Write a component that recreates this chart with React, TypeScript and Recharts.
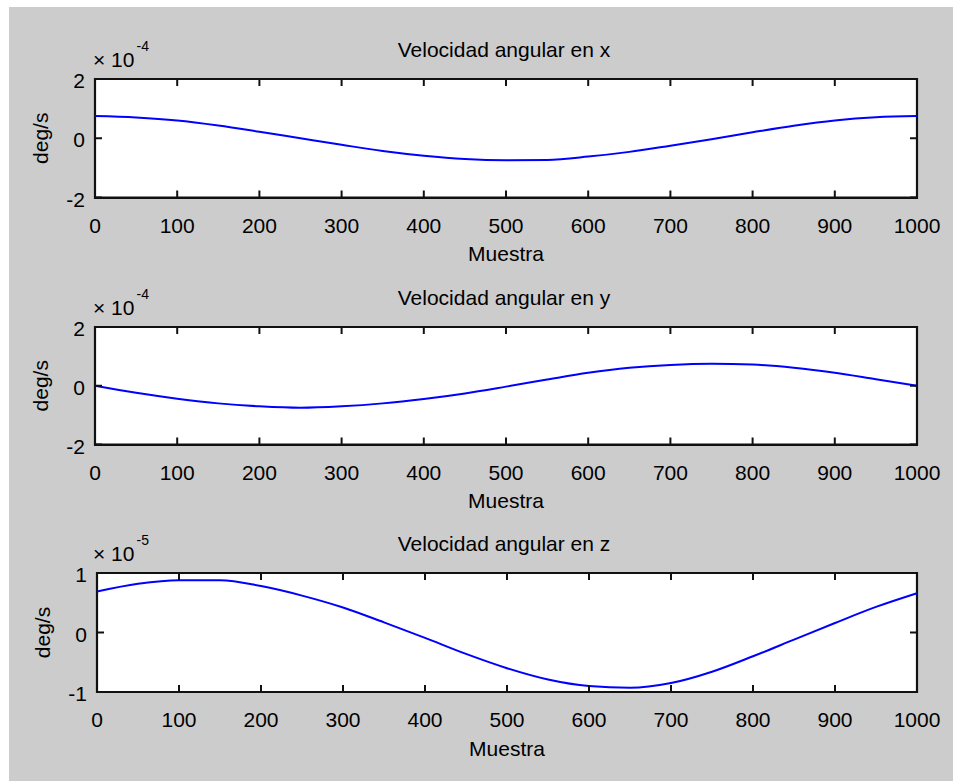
import React from "react";
import { LineChart, Line, XAxis, YAxis, ReferenceArea } from "recharts";

// muestra (sample index) every 50 samples
const muestra = [
  0, 50, 100, 150, 200, 250, 300, 350, 400, 450, 500, 550, 600, 650, 700, 750,
  800, 850, 900, 950, 1000,
];

// angular velocity in x, units of 1e-4 deg/s
const velocidadX = [
  0.75, 0.7, 0.6, 0.43, 0.22, 0, -0.22, -0.43, -0.59, -0.7, -0.74, -0.73,
  -0.62, -0.46, -0.25, -0.03, 0.2, 0.42, 0.6, 0.71, 0.75,
];

// angular velocity in y, units of 1e-4 deg/s
const velocidadY = [
  0, -0.24, -0.44, -0.6, -0.7, -0.75, -0.7, -0.6, -0.45, -0.26, -0.03, 0.21,
  0.44, 0.61, 0.71, 0.75, 0.72, 0.61, 0.44, 0.22, 0,
];

// angular velocity in z, units of 1e-5 deg/s
const velocidadZ = [
  0.69, 0.82, 0.88, 0.88, 0.78, 0.62, 0.42, 0.17, -0.09, -0.36, -0.6, -0.79,
  -0.9, -0.93, -0.85, -0.66, -0.4, -0.12, 0.16, 0.43, 0.66,
];

const muestraTicks = [0, 100, 200, 300, 400, 500, 600, 700, 800, 900, 1000];
const ticksXY = [-2, 0, 2];
const ticksZ = [-1, 0, 1];

const FONT = "'Liberation Sans', Arial, Helvetica, sans-serif";
const FS = 21;
const W = 957;
const PLOT_RIGHT = 917;
const Y_AXIS_W = 60;
const X_AXIS_H = 45;
const ABOVE = 75;
const BELOW = 90;
const TICK_LEN = 7;
const BOX = "#111";
const BOX_W = 2.2;

// MATLAB style ticks: short marks pointing into the axes box, on both sides
const BottomTick = (props: any) => {
  const { x, y, payload, plotH } = props;
  return (
    <g>
      <line x1={x} x2={x} y1={y} y2={y - TICK_LEN} stroke={BOX} strokeWidth={2} />
      <line x1={x} x2={x} y1={y - plotH} y2={y - plotH + TICK_LEN} stroke={BOX} strokeWidth={2} />
      <text x={x} y={y + 35} textAnchor="middle" fill="#000" fontSize={FS} fontFamily={FONT}>
        {payload.value}
      </text>
    </g>
  );
};

const LeftTick = (props: any) => {
  const { x, y, payload, plotW } = props;
  return (
    <g>
      <line x1={x} x2={x + TICK_LEN} y1={y} y2={y} stroke={BOX} strokeWidth={2} />
      <line x1={x + plotW} x2={x + plotW - TICK_LEN} y1={y} y2={y} stroke={BOX} strokeWidth={2} />
      <text x={x - 10} y={y + 9} textAnchor="end" fill="#000" fontSize={FS} fontFamily={FONT}>
        {payload.value}
      </text>
    </g>
  );
};

type PanelProps = {
  values: number[];
  yTicks: number[];
  top: number;
  bottom: number;
  left: number;
};

const Panel = ({ values, yTicks, top, bottom, left }: PanelProps) => {
  const data = muestra.map((m, i) => ({ muestra: m, valor: values[i] }));
  const yDomain = [yTicks[0], yTicks[yTicks.length - 1]];
  const plotW = PLOT_RIGHT - left;
  const plotH = bottom - top;

  return (
    <>
      {/* white axes background with its box */}
      <div
        style={{
          position: "absolute",
          left,
          top,
          width: plotW,
          height: plotH,
          background: "#fff",
          outline: `${BOX_W}px solid ${BOX}`,
          outlineOffset: -BOX_W / 2,
        }}
      />
      <div style={{ position: "absolute", left: 0, top: top - ABOVE }}>
        <LineChart
          width={W}
          height={plotH + ABOVE + BELOW}
          data={data}
          margin={{
            top: ABOVE,
            right: W - PLOT_RIGHT,
            bottom: BELOW - X_AXIS_H,
            left: left - Y_AXIS_W,
          }}
        >
          <ReferenceArea
            x1={0}
            x2={1000}
            y1={yDomain[0]}
            y2={yDomain[1]}
            fill="none"
            stroke={BOX}
            strokeWidth={BOX_W}
            ifOverflow="visible"
          />
          <XAxis
            dataKey="muestra"
            type="number"
            domain={[0, 1000]}
            ticks={muestraTicks}
            interval={0}
            height={X_AXIS_H}
            axisLine={false}
            tickLine={false}
            tickSize={0}
            tickMargin={0}
            tick={(p: any) => <BottomTick {...p} plotH={plotH} />}
            label={{
              value: "Muestra",
              position: "bottom",
              offset: 4,
              fill: "#000",
              fontSize: FS,
              fontFamily: FONT,
            }}
          />
          <YAxis
            type="number"
            domain={yDomain}
            ticks={yTicks}
            interval={0}
            width={Y_AXIS_W}
            axisLine={false}
            tickLine={false}
            tickSize={0}
            tickMargin={0}
            tick={(p: any) => <LeftTick {...p} plotW={plotW} />}
            label={{
              value: "deg/s",
              angle: -90,
              position: "insideLeft",
              offset: 6,
              fill: "#000",
              fontSize: FS,
              fontFamily: FONT,
              style: { textAnchor: "middle" },
            }}
          />
          <Line
            type="monotone"
            dataKey="valor"
            stroke="#0000ff"
            strokeWidth={2}
            dot={false}
            isAnimationActive={false}
          />
        </LineChart>
      </div>
    </>
  );
};

const panels = [
  { title: "Velocidad angular en x", exp: "-4", values: velocidadX, yTicks: ticksXY, top: 79, bottom: 197.5, left: 95 },
  { title: "Velocidad angular en y", exp: "-4", values: velocidadY, yTicks: ticksXY, top: 327, bottom: 444.5, left: 95 },
  { title: "Velocidad angular en z", exp: "-5", values: velocidadZ, yTicks: ticksZ, top: 573, bottom: 692, left: 97 },
];

export default function App() {
  return (
    <div
      style={{
        position: "absolute",
        left: 0,
        top: 0,
        width: W,
        height: 783,
        background: "#fff",
        overflow: "hidden",
      }}
    >
      <div
        style={{
          position: "absolute",
          left: 9,
          top: 7,
          width: 944,
          height: 774,
          background: "#cccccc",
        }}
      />
      {panels.map((p) => (
        <Panel key={p.title} values={p.values} yTicks={p.yTicks} top={p.top} bottom={p.bottom} left={p.left} />
      ))}
      <svg
        width={W}
        height={783}
        style={{ position: "absolute", left: 0, top: 0, pointerEvents: "none" }}
        fontFamily={FONT}
      >
        {panels.map((p) => (
          <g key={p.title}>
            <text x={504} y={p.top - 22} fontSize={FS} textAnchor="middle" fill="#000">
              {p.title}
            </text>
            <text x={93} y={p.top - 12} fontSize={FS} fill="#000">
              × 10
              <tspan dx={2} dy={-16} fontSize={14}>
                {p.exp}
              </tspan>
            </text>
          </g>
        ))}
      </svg>
    </div>
  );
}
